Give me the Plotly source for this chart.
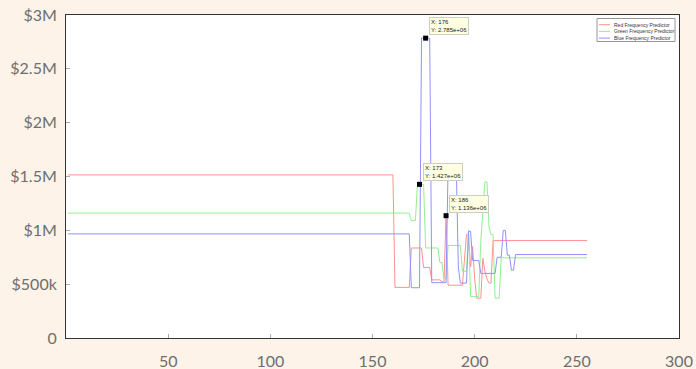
import numpy as np
import plotly.graph_objects as go

# Predicted price (USD) per sample index for each colour-frequency predictor.
# Breakpoints of the step-like series; segments between them are straight.
red_x = [1, 160, 161, 168, 169, 174, 175, 178, 179, 183, 184, 185, 186, 187, 194, 195,
         196, 197, 198, 199, 200, 201, 203, 204, 205, 206, 207, 208, 209, 255]
red_y = [1515000, 1515000, 470000, 470000, 836000, 836000, 655000, 655000, 540000, 540000,
         520000, 520000, 1136000, 490000, 490000, 700000, 960000, 960000, 660000, 850000,
         550000, 370000, 370000, 740000, 620000, 550000, 510000, 510000, 905000, 905000]

green_x = [1, 168, 169, 171, 172, 175, 176, 182, 183, 184, 185, 186, 187, 193, 194, 196,
           197, 198, 202, 203, 205, 206, 207, 208, 209, 210, 212, 213, 255]
green_y = [1160000, 1160000, 1090000, 1090000, 1427000, 1427000, 836000, 836000, 700000,
           700000, 550000, 550000, 860000, 860000, 620000, 620000, 1000000, 384000, 384000,
           900000, 1450000, 1450000, 1035000, 960000, 960000, 370000, 370000, 745000, 745000]

blue_x = [1, 168, 169, 173, 174, 178, 179, 186, 187, 191, 192, 193, 196, 197, 198, 199,
          202, 203, 210, 211, 213, 214, 215, 216, 217, 218, 219, 220, 255]
blue_y = [967000, 967000, 467000, 467000, 2785000, 2785000, 514000, 514000, 1600000, 1600000,
          660000, 510000, 510000, 990000, 990000, 720000, 720000, 600000, 600000, 750000,
          750000, 1000000, 1000000, 770000, 770000, 630000, 630000, 775000, 775000]

series_names = ["Red Frequency Predictor", "Green Frequency Predictor", "Blue Frequency Predictor"]
series_colors = ["rgb(255,145,145)", "rgb(145,240,145)", "rgb(145,145,255)"]

# Data tips: (series index, sample index)
tips = [(2, 176), (1, 173), (0, 186)]

x_ticks = [50, 100, 150, 200, 250, 300]
y_ticks = [0, 500000, 1000000, 1500000, 2000000, 2500000, 3000000]
y_tick_text = ["0", "$500k", "$1M", "$1.5M", "$2M", "$2.5M", "$3M"]

series = [(red_x, red_y), (green_x, green_y), (blue_x, blue_y)]

fig = go.Figure()
for (sx, sy), name, color in zip(series, series_names, series_colors):
    fig.add_trace(go.Scatter(x=sx, y=sy, mode="lines", name=name,
                             line=dict(color=color, width=1), showlegend=False))

tip_x, tip_y = [], []
for si, tx in tips:
    sx, sy = series[si]
    ty = float(np.interp(tx, sx, sy))
    tip_x.append(tx)
    tip_y.append(ty)
    fig.add_annotation(x=tx, y=ty, xref="x", yref="y", showarrow=False,
                       text=f"X: {tx}<br>Y: {ty:.3e}", align="left",
                       xanchor="left", yanchor="bottom", xshift=3, yshift=3,
                       bgcolor="rgb(255,255,225)", bordercolor="rgb(205,205,195)",
                       borderwidth=1, borderpad=1,
                       font=dict(family="Liberation Sans", size=6, color="#222"))
fig.add_trace(go.Scatter(x=tip_x, y=tip_y, mode="markers", showlegend=False,
                         marker=dict(symbol="square", size=5, color="black")))

# Legend box in the upper-right corner of the axes
L, R, B, T = 66, 679, 338, 15
def px(v):
    return (v - L) / (R - L)
def py(v):
    return (B - v) / (B - T)

fig.add_shape(type="rect", xref="paper", yref="paper",
              x0=px(597), x1=px(675), y0=py(41.5), y1=py(18.5),
              fillcolor="white", line=dict(color="rgb(150,150,150)", width=1))
for i, (name, color) in enumerate(zip(series_names, series_colors)):
    yy = 24.7 + i * 6.7
    fig.add_shape(type="line", xref="paper", yref="paper",
                  x0=px(599), x1=px(610), y0=py(yy), y1=py(yy),
                  line=dict(color=color, width=1))
    fig.add_annotation(x=px(612), y=py(yy), xref="paper", yref="paper",
                       text=name, showarrow=False, xanchor="left", yanchor="middle",
                       font=dict(family="Liberation Sans", size=5, color="#333"))

tick_font = dict(family="Lato", size=16, color="#6e6e6e")
fig.update_layout(
    width=696, height=369,
    margin=dict(l=L, r=696 - R, t=T, b=369 - B),
    paper_bgcolor="#fdf3e9", plot_bgcolor="white",
    xaxis=dict(range=[0, 300], tickvals=x_ticks, ticks="inside", ticklen=4,
               tickcolor="#aaa", showgrid=False, zeroline=False, automargin=False,
               showline=True, mirror=True, linecolor="#333", linewidth=1,
               tickfont=tick_font, ticklabelstandoff=9),
    yaxis=dict(range=[0, 3000000], tickvals=y_ticks, ticktext=y_tick_text,
               ticks="inside", ticklen=4, tickcolor="#aaa", showgrid=False,
               zeroline=False, showline=True, mirror=True, linecolor="#333",
               linewidth=1, tickfont=tick_font, ticklabelstandoff=5, automargin=False),
)

fig.write_html("out.html")
